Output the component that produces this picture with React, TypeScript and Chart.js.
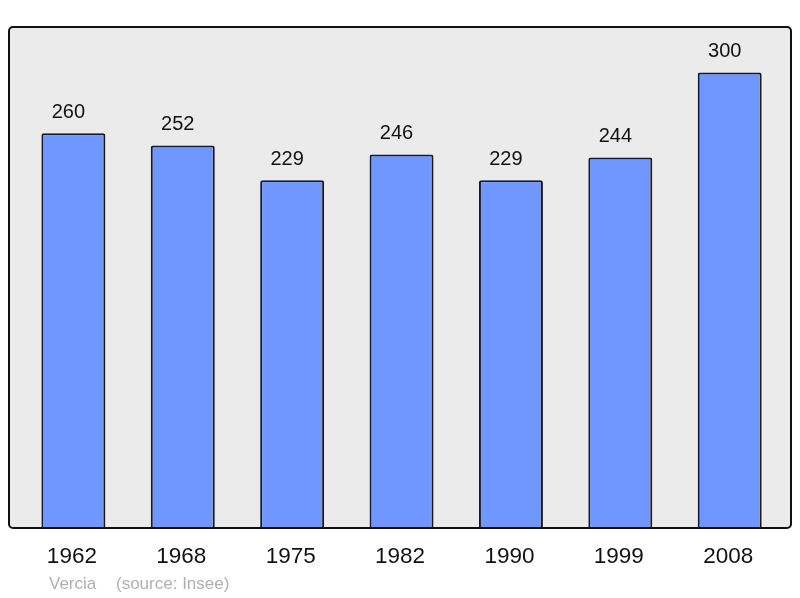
import React, { useEffect, useRef } from "react";
import { Chart, registerables } from "chart.js";

Chart.register(...registerables);

const years = ["1962", "1968", "1975", "1982", "1990", "1999", "2008"];
const population = [260, 252, 229, 246, 229, 244, 300];
const yMin = 0;
const yMax = 330;
const sourceName = "Vercia";
const sourceNote = "(source: Insee)";

const FONT = '"Liberation Sans", Arial, sans-serif';

const framePlugin = {
  id: "frame",
  beforeDraw(chart: any) {
    const { ctx, chartArea } = chart;
    const x0 = 9, x1 = 791, y0 = chartArea.top, y1 = chartArea.bottom;
    ctx.save();
    ctx.fillStyle = "#ffffff";
    ctx.fillRect(0, 0, chart.width, chart.height);
    ctx.beginPath();
    ctx.roundRect(x0, y0, x1 - x0, y1 - y0, 4);
    ctx.fillStyle = "#ebebeb";
    ctx.fill();
    ctx.restore();
  },
  afterDatasetsDraw(chart: any) {
    const { ctx, chartArea } = chart;
    const x0 = 9, x1 = 791, y0 = chartArea.top, y1 = chartArea.bottom;
    ctx.save();
    ctx.beginPath();
    ctx.roundRect(x0, y0, x1 - x0, y1 - y0, 4);
    ctx.lineWidth = 2;
    ctx.strokeStyle = "#111111";
    ctx.stroke();

    const meta = chart.getDatasetMeta(0);
    ctx.fillStyle = "#111111";
    ctx.textAlign = "center";
    ctx.textBaseline = "middle";
    ctx.font = `20px ${FONT}`;
    meta.data.forEach((el: any, i: number) => {
      ctx.fillText(String(population[i]), el.x - 5, el.y - 21);
    });
    ctx.font = `22.5px ${FONT}`;
    meta.data.forEach((el: any, i: number) => {
      ctx.fillText(years[i], el.x - 1.5, chartArea.bottom + 29);
    });

    ctx.textAlign = "left";
    ctx.font = `17px ${FONT}`;
    ctx.fillStyle = "#b0b0b0";
    ctx.fillText(sourceName, 49, chartArea.bottom + 56);
    ctx.fillText(sourceNote, 116, chartArea.bottom + 56);
    ctx.restore();
  },
};

export default function App() {
  const ref = useRef<HTMLCanvasElement | null>(null);

  useEffect(() => {
    if (!ref.current) return;
    const chart = new Chart(ref.current, {
      type: "bar",
      data: {
        labels: years,
        datasets: [
          {
            data: population,
            backgroundColor: "#7096ff",
            borderColor: "#1a1a1a",
            borderWidth: 2,
            borderRadius: 2,
            borderSkipped: "start",
            barPercentage: 0.585,
            categoryPercentage: 1,
          },
        ],
      },
      options: {
        responsive: false,
        animation: false,
        devicePixelRatio: 1,
        layout: {
          padding: { left: 18.7, right: 15.6, top: 27, bottom: 70 },
        },
        plugins: {
          legend: { display: false },
          tooltip: { enabled: false },
        },
        scales: {
          x: { display: false, offset: true },
          y: { display: false, min: yMin, max: yMax },
        },
      },
      plugins: [framePlugin],
    });
    return () => chart.destroy();
  }, []);

  return (
    <div style={{ position: "absolute", left: 0, top: 0, width: 800, height: 598 }}>
      <canvas ref={ref} width={800} height={598} style={{ display: "block" }} />
    </div>
  );
}
